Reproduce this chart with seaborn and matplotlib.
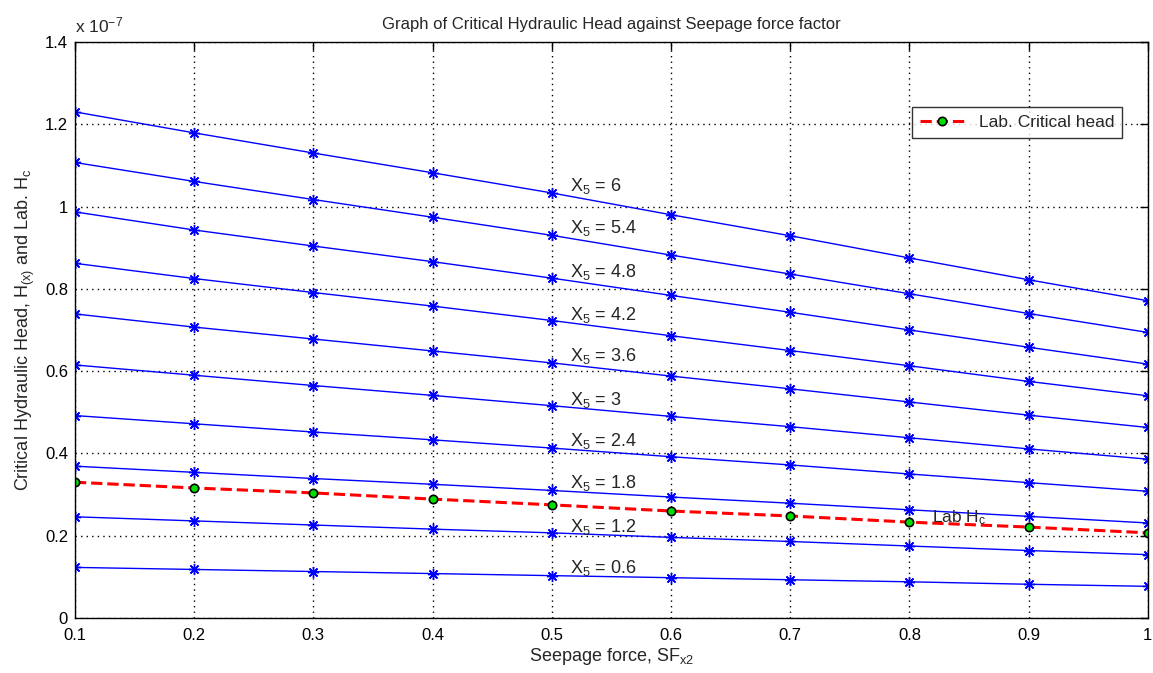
import matplotlib
matplotlib.use("Agg")
import matplotlib.pyplot as plt
import pandas as pd
import seaborn as sns

# seepage force factor (x axis)
sf_x2 = [0.1, 0.2, 0.3, 0.4, 0.5, 0.6, 0.7, 0.8, 0.9, 1.0]

# critical hydraulic head H(x) for each X5, in units of 1e-7
x5_values = [6, 5.4, 4.8, 4.2, 3.6, 3, 2.4, 1.8, 1.2, 0.6]
head_x5_6 = [1.230, 1.179, 1.130, 1.082, 1.033, 0.980, 0.929, 0.875, 0.822, 0.771]
head_x5_5_4 = [1.107, 1.061, 1.017, 0.974, 0.930, 0.882, 0.836, 0.788, 0.740, 0.694]
head_x5_4_8 = [0.987, 0.943, 0.904, 0.866, 0.826, 0.784, 0.743, 0.700, 0.658, 0.617]
head_x5_4_2 = [0.862, 0.825, 0.791, 0.758, 0.723, 0.686, 0.650, 0.613, 0.575, 0.540]
head_x5_3_6 = [0.739, 0.707, 0.678, 0.649, 0.620, 0.588, 0.557, 0.525, 0.493, 0.463]
head_x5_3 = [0.615, 0.590, 0.565, 0.541, 0.516, 0.490, 0.465, 0.438, 0.411, 0.386]
head_x5_2_4 = [0.492, 0.472, 0.452, 0.433, 0.413, 0.392, 0.372, 0.350, 0.329, 0.308]
head_x5_1_8 = [0.369, 0.354, 0.339, 0.325, 0.310, 0.294, 0.279, 0.263, 0.247, 0.231]
head_x5_1_2 = [0.246, 0.236, 0.226, 0.216, 0.207, 0.196, 0.186, 0.175, 0.164, 0.154]
head_x5_0_6 = [0.123, 0.118, 0.113, 0.108, 0.103, 0.098, 0.093, 0.088, 0.082, 0.077]
head_lines = [head_x5_6, head_x5_5_4, head_x5_4_8, head_x5_4_2, head_x5_3_6,
              head_x5_3, head_x5_2_4, head_x5_1_8, head_x5_1_2, head_x5_0_6]

# laboratory critical head, units of 1e-7
lab_head = [0.330, 0.316, 0.304, 0.289, 0.275, 0.260, 0.248, 0.233, 0.221, 0.207]

# where the X5 labels sit (y in units of 1e-7)
label_y = [1.05, 0.948, 0.841, 0.737, 0.637, 0.53, 0.43, 0.328, 0.221, 0.122]

# long table for seaborn
rows = []
for x5, vals in zip(x5_values, head_lines):
    for sf, h in zip(sf_x2, vals):
        rows.append({"sf": sf, "head": h, "x5": str(x5)})
df = pd.DataFrame(rows)
df_lab = pd.DataFrame({"sf": sf_x2, "head": lab_head})

sns.set_theme(style="white")
plt.rcParams["font.family"] = ["Liberation Sans", "DejaVu Sans"]
plt.rcParams["mathtext.default"] = "regular"

fig = plt.figure(figsize=(11.53, 6.73), dpi=100)
ax = fig.add_axes([0.065, 0.0817, 0.9305, 0.856])

sns.lineplot(data=df, x="sf", y="head", units="x5", estimator=None,
             color="blue", linewidth=1.0, marker=(8, 2, 0), markersize=8,
             markeredgewidth=1.0, markeredgecolor="blue", ax=ax, legend=False)

sns.lineplot(data=df_lab, x="sf", y="head", color="red", linewidth=2.2,
             linestyle="--", dashes=(6, 3), marker="o", markersize=6,
             markerfacecolor="#00e000", markeredgecolor="black",
             markeredgewidth=1.2, label="Lab. Critical head", ax=ax)

for x5, ly in zip(x5_values, label_y):
    ax.text(0.515, ly, f"X$_5$ = {x5:g}", fontsize=13, va="center", ha="left")
ax.text(0.819, 0.243, "Lab H$_c$", fontsize=12.5, va="center", ha="left")

ax.set_xlim(0.1, 1.0)
ax.set_ylim(0, 1.4)
ax.set_xticks(sf_x2)
ax.set_xticklabels([f"{v:g}" for v in sf_x2])
ax.set_yticks([0, 0.2, 0.4, 0.6, 0.8, 1.0, 1.2, 1.4])
ax.set_yticklabels(["0", "0.2", "0.4", "0.6", "0.8", "1", "1.2", "1.4"])

ax.grid(True, linestyle=(0, (1, 3)), color="black", linewidth=1.0)
ax.tick_params(direction="in", top=True, right=True, length=6, width=1,
               labelsize=12, colors="black")
ax.tick_params(axis="x", pad=7)
ax.tick_params(axis="y", pad=5)
for s in ax.spines.values():
    s.set_color("black")
    s.set_linewidth(1.0)

ax.set_title("Graph of Critical Hydraulic Head against Seepage force factor",
             fontsize=12, pad=9)
ax.set_xlabel("Seepage force, SF$_{x2}$", fontsize=13, labelpad=2)
ax.set_ylabel("Critical Hydraulic Head, H$_{(x)}$ and Lab. H$_c$", fontsize=13,
              labelpad=6)
ax.text(0.0, 1.012, "x 10$^{-7}$", transform=ax.transAxes, fontsize=12.5,
        ha="left", va="bottom")

leg = ax.legend(loc="upper right", bbox_to_anchor=(0.976, 0.887), fontsize=12.5,
                frameon=True, fancybox=False, handlelength=2.6,
                borderpad=0.45, borderaxespad=0)
leg.get_frame().set_edgecolor("black")
leg.get_frame().set_linewidth(1.0)

fig.savefig("out.png", dpi=100)
